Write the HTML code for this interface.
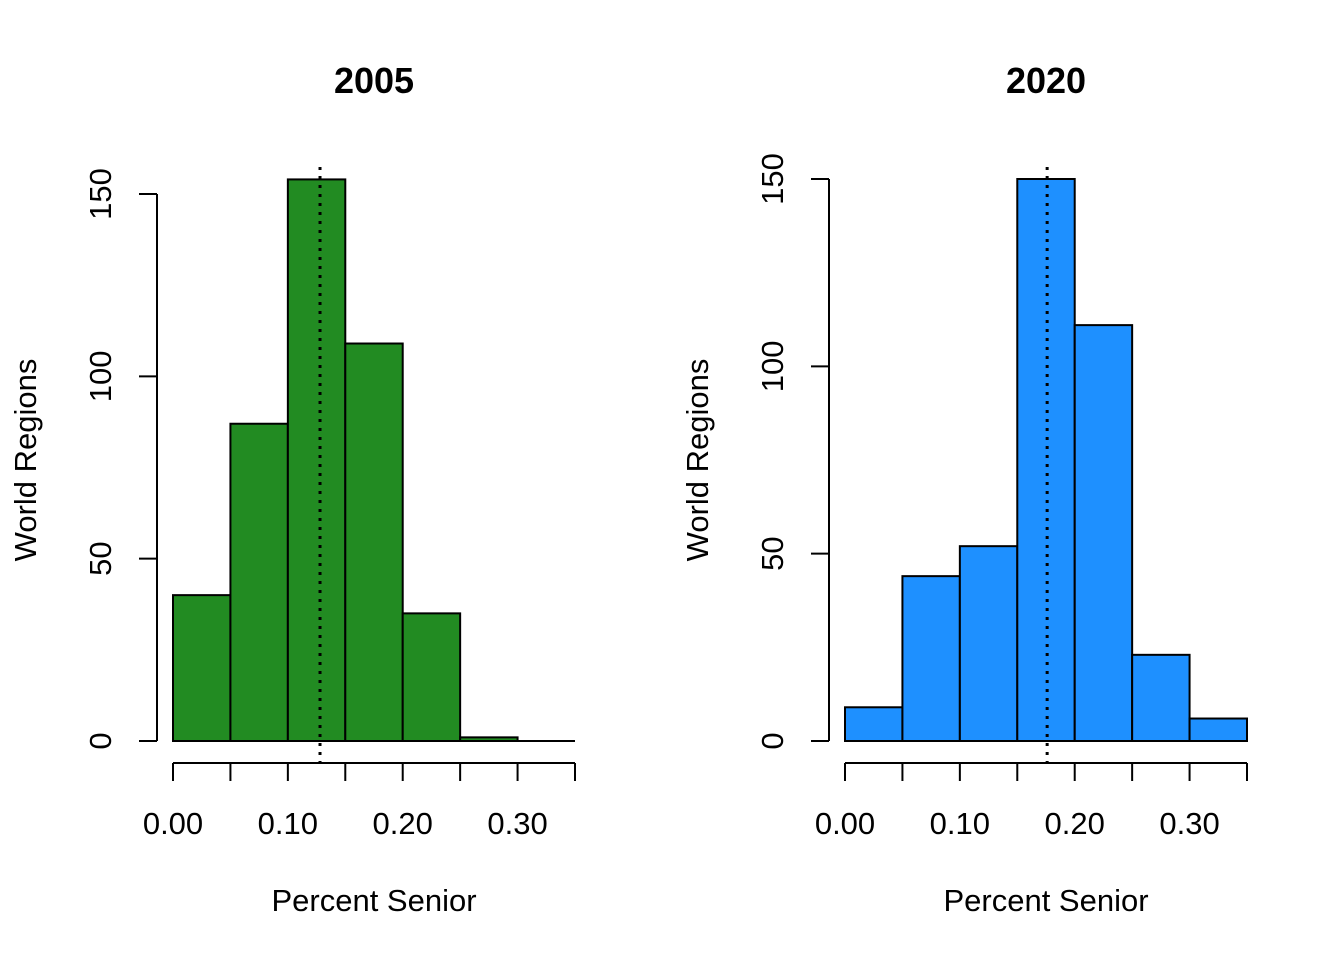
<!DOCTYPE html>
<html><head><meta charset="utf-8"><style>
body{margin:0;background:#fff}
svg text{font-family:"Liberation Sans",Arial,sans-serif;fill:#000}
</style></head><body>
<svg width="1344" height="960" xmlns="http://www.w3.org/2000/svg" id="chart"></svg>
<script>
const breaks = [0,0.05,0.10,0.15,0.20,0.25,0.30,0.35];
const counts2005 = [40,87,154,109,35,1,0];
const counts2020 = [9,44,52,150,111,23,6];
const mean2005 = 0.128;
const mean2020 = 0.176;
const xTicks = [0,0.05,0.10,0.15,0.20,0.25,0.30,0.35];
const xLabels = ["0.00","0.10","0.20","0.30"];
const xLabelVals = [0,0.10,0.20,0.30];
const yTicks2005 = [0,50,100,150];
const yTicks2020 = [0,50,100,150];

const NS="http://www.w3.org/2000/svg";
const svg=document.getElementById('chart');
function mk(tag,attrs,parent){const e=document.createElementNS(NS,tag);for(const k in attrs)e.setAttribute(k,attrs[k]);(parent||svg).appendChild(e);return e;}

function panel(cfg){
  const g=mk('g',{});
  
  
  const xs=v=>cfg.x0+(v-0)/(0.35)*(cfg.x1-cfg.x0);
  const ys=v=>cfg.y0-v/150*(cfg.y0-cfg.y150);
  const t=mk('text',{x:(cfg.x0+cfg.x1)/2,y:93,'text-anchor':'middle','font-size':36,'font-weight':'bold'},g);
  t.textContent=cfg.title;
  
  
  cfg.counts.forEach((c,i)=>{
    let r;
    if(c>0){
      r=mk('rect',{x:xs(breaks[i]),y:ys(c),width:xs(breaks[i+1])-xs(breaks[i]),height:ys(0)-ys(c),fill:cfg.color,stroke:'#000','stroke-width':2},g);
    } else {
      r=mk('line',{x1:xs(breaks[i]),x2:xs(breaks[i+1]),y1:ys(0),y2:ys(0),stroke:'#000','stroke-width':2},g);
    }
    
    
  });
  const ax=mk('g',{},g);
  
  
  mk('line',{x1:xs(0),x2:xs(0.35),y1:763,y2:763,stroke:'#000','stroke-width':2},ax);
  xTicks.forEach(v=>mk('line',{x1:xs(v),x2:xs(v),y1:763,y2:781,stroke:'#000','stroke-width':2},ax));
  xLabelVals.forEach((v,i)=>{const l=mk('text',{x:xs(v),y:834,'text-anchor':'middle','font-size':31},ax);l.textContent=xLabels[i];});
  const xt=mk('text',{x:(cfg.x0+cfg.x1)/2,y:911,'text-anchor':'middle','font-size':31},g);
  xt.textContent='Percent Senior';
  
  
  const ay=mk('g',{},g);
  
  
  const ax0=cfg.x0-16;
  mk('line',{x1:ax0,x2:ax0,y1:ys(0),y2:ys(150),stroke:'#000','stroke-width':2},ay);
  cfg.yTicks.forEach(v=>{
    mk('line',{x1:ax0,x2:ax0-18,y1:ys(v),y2:ys(v),stroke:'#000','stroke-width':2},ay);
    const l=mk('text',{x:0,y:0,'text-anchor':'middle','font-size':31,transform:`translate(${ax0-46},${ys(v)}) rotate(-90)`},ay);
    l.textContent=v;
  });
  const yt=mk('text',{x:0,y:0,'text-anchor':'middle','font-size':31,transform:`translate(${cfg.x0-137},460) rotate(-90)`},g);
  yt.textContent='World Regions';
  
  
  const ml=mk('line',{x1:xs(cfg.mean),x2:xs(cfg.mean),y1:167,y2:763,stroke:'#000','stroke-width':3,'stroke-dasharray':'3,6'},g);
  
  
}
panel({name:'panel-2005',title:'2005',x0:173,x1:575,y0:741,y150:194,counts:counts2005,color:'#228B22',mean:mean2005,yTicks:yTicks2005});
panel({name:'panel-2020',title:'2020',x0:845,x1:1247,y0:741,y150:179,counts:counts2020,color:'#1E90FF',mean:mean2020,yTicks:yTicks2020});
</script>
</body></html>
